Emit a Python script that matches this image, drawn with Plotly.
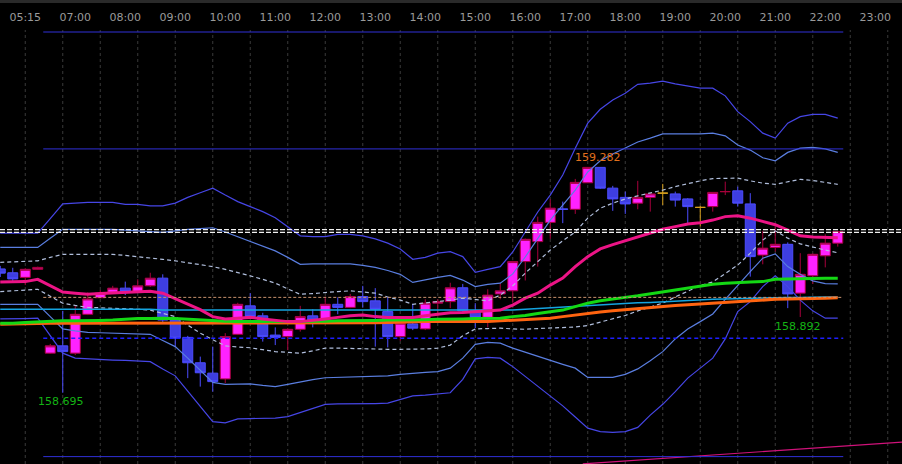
import plotly.graph_objects as go

# %% data: 15-minute bars, index 0..67
bar_index = list(range(68))

opens = [159.017, 159.007, 158.995, 159.016, 158.798, 158.817, 158.798, 158.899, 158.942, 158.956,
         158.967, 158.958, 158.973, 158.993, 158.884, 158.839, 158.773, 158.746, 158.731, 158.847,
         158.921, 158.895, 158.845, 158.841, 158.860, 158.895, 158.886, 158.925, 158.917, 158.945,
         158.934, 158.906, 158.841, 158.874, 158.861, 158.928, 158.932, 158.968, 158.908, 158.891,
         158.952, 158.960, 159.036, 159.088, 159.138, 159.173, 159.172, 159.241, 159.281, 159.227,
         159.203, 159.188, 159.203, 159.214, 159.212, 159.199, 159.177, 159.179, 159.218, 159.220,
         159.186, 159.053, 159.073, 159.081, 158.954, 158.999, 159.051, 159.084]
highs = [159.025, 159.020, 159.019, 159.023, 158.822, 158.908, 158.921, 158.956, 158.962, 158.973,
         158.984, 158.990, 159.007, 159.003, 158.887, 158.843, 158.789, 158.815, 158.850, 158.929,
         158.954, 158.903, 158.865, 158.863, 158.921, 158.912, 158.945, 158.943, 158.952, 158.973,
         158.967, 158.943, 158.879, 158.926, 158.938, 158.938, 158.981, 158.978, 158.928, 158.964,
         158.980, 159.038, 159.096, 159.153, 159.198, 159.192, 159.251, 159.282, 159.282, 159.233,
         159.218, 159.246, 159.215, 159.238, 159.218, 159.201, 159.181, 159.217, 159.244, 159.231,
         159.214, 159.116, 159.129, 159.086, 159.058, 159.057, 159.107, 159.116]
lows = [158.996, 158.984, 158.975, 159.015, 158.796, 158.695, 158.793, 158.897, 158.941, 158.954,
        158.949, 158.957, 158.970, 158.874, 158.815, 158.733, 158.711, 158.698, 158.720, 158.845,
        158.891, 158.828, 158.819, 158.806, 158.854, 158.865, 158.884, 158.899, 158.915, 158.917,
        158.815, 158.813, 158.830, 158.858, 158.858, 158.893, 158.915, 158.905, 158.863, 158.865,
        158.938, 158.929, 158.987, 159.023, 159.095, 159.136, 159.160, 159.240, 159.225, 159.168,
        159.160, 159.172, 159.166, 159.183, 159.179, 159.136, 159.127, 159.166, 159.209, 159.179,
        158.997, 159.029, 159.062, 158.915, 158.892, 158.978, 159.021, 159.075]
closes = [159.006, 158.991, 159.016, 159.021, 158.817, 158.802, 158.899, 158.939, 158.954, 158.967,
          158.958, 158.973, 158.993, 158.884, 158.837, 158.773, 158.747, 158.724, 158.841, 158.925,
          158.893, 158.841, 158.839, 158.860, 158.893, 158.884, 158.925, 158.917, 158.945, 158.932,
          158.912, 158.841, 158.876, 158.863, 158.928, 158.932, 158.968, 158.908, 158.891, 158.949,
          158.960, 159.036, 159.094, 159.138, 159.175, 159.172, 159.242, 159.281, 159.227, 159.199,
          159.186, 159.203, 159.212, 159.214, 159.196, 159.179, 159.177, 159.216, 159.218, 159.188,
          159.049, 159.071, 159.081, 158.952, 159.003, 159.055, 159.084, 159.114]
gold_doji = [53, 56]

# Bollinger-style envelopes
band3_upper = [159.110, 159.110, 159.110, 159.110, 159.148, 159.186, 159.188, 159.190, 159.190, 159.190,
               159.185, 159.185, 159.181, 159.181, 159.188, 159.203, 159.215, 159.227, 159.209, 159.192,
               159.179, 159.166, 159.150, 159.127, 159.103, 159.101, 159.101, 159.107, 159.107, 159.103,
               159.095, 159.084, 159.069, 159.042, 159.047, 159.058, 159.062, 159.049, 159.008, 159.016,
               159.023, 159.061, 159.113, 159.165, 159.209, 159.261, 159.331, 159.396, 159.432, 159.456,
               159.474, 159.497, 159.500, 159.505, 159.498, 159.493, 159.487, 159.487, 159.467, 159.426,
               159.400, 159.370, 159.357, 159.396, 159.413, 159.419, 159.419, 159.409]
band2_upper = [159.073, 159.073, 159.073, 159.073, 159.097, 159.120, 159.120, 159.120, 159.120, 159.120,
               159.118, 159.116, 159.113, 159.112, 159.116, 159.120, 159.122, 159.124, 159.113, 159.101,
               159.089, 159.077, 159.064, 159.047, 159.029, 159.030, 159.030, 159.030, 159.030, 159.026,
               159.021, 159.013, 159.003, 158.982, 158.989, 158.995, 159.000, 158.988, 158.971, 158.977,
               158.980, 159.004, 159.048, 159.097, 159.144, 159.183, 159.222, 159.269, 159.298, 159.316,
               159.331, 159.347, 159.357, 159.368, 159.368, 159.368, 159.368, 159.370, 159.363, 159.339,
               159.326, 159.306, 159.298, 159.320, 159.331, 159.333, 159.329, 159.320]
band1_upper = [159.034, 159.036, 159.037, 159.038, 159.047, 159.055, 159.055, 159.055, 159.055, 159.055,
               159.052, 159.049, 159.046, 159.042, 159.038, 159.033, 159.028, 159.023, 159.016, 159.008,
               158.999, 158.990, 158.980, 158.965, 158.951, 158.953, 158.956, 158.958, 158.960, 158.957,
               158.954, 158.944, 158.936, 158.925, 158.928, 158.932, 158.936, 158.941, 158.938, 158.934,
               158.949, 158.973, 159.006, 159.035, 159.066, 159.090, 159.113, 159.149, 159.175, 159.188,
               159.199, 159.207, 159.214, 159.222, 159.231, 159.239, 159.246, 159.252, 159.253, 159.253,
               159.246, 159.240, 159.237, 159.243, 159.250, 159.247, 159.242, 159.237]
band1_lower = [158.958, 158.960, 158.962, 158.964, 158.946, 158.928, 158.922, 158.917, 158.916, 158.915,
               158.913, 158.912, 158.910, 158.902, 158.893, 158.871, 158.850, 158.833, 158.817, 158.814,
               158.812, 158.807, 158.802, 158.800, 158.798, 158.804, 158.811, 158.811, 158.810, 158.810,
               158.809, 158.808, 158.808, 158.808, 158.809, 158.811, 158.819, 158.843, 158.861, 158.862,
               158.863, 158.861, 158.860, 158.862, 158.863, 158.865, 158.866, 158.870, 158.879, 158.887,
               158.896, 158.908, 158.918, 158.928, 158.944, 158.960, 158.974, 158.983, 159.004, 159.027,
               159.058, 159.092, 159.116, 159.097, 159.082, 159.073, 159.066, 159.059]
band2_lower = [158.925, 158.925, 158.925, 158.925, 158.893, 158.861, 158.856, 158.852, 158.851, 158.850,
               158.849, 158.848, 158.847, 158.831, 158.815, 158.785, 158.754, 158.722, 158.717, 158.717,
               158.718, 158.714, 158.711, 158.717, 158.724, 158.729, 158.734, 158.735, 158.737, 158.738,
               158.739, 158.739, 158.743, 158.746, 158.748, 158.750, 158.759, 158.785, 158.821, 158.826,
               158.824, 158.811, 158.800, 158.789, 158.778, 158.769, 158.759, 158.735, 158.735, 158.735,
               158.743, 158.757, 158.778, 158.802, 158.835, 158.861, 158.880, 158.900, 158.938, 158.975,
               159.010, 159.045, 159.056, 159.023, 159.003, 158.986, 158.979, 158.978]
band3_lower = [158.887, 158.887, 158.888, 158.889, 158.843, 158.798, 158.785, 158.783, 158.781, 158.780,
               158.779, 158.777, 158.776, 158.757, 158.739, 158.699, 158.659, 158.620, 158.617, 158.627,
               158.628, 158.628, 158.629, 158.633, 158.644, 158.654, 158.665, 158.666, 158.666, 158.667,
               158.667, 158.668, 158.677, 158.687, 158.689, 158.692, 158.695, 158.730, 158.783, 158.787,
               158.785, 158.763, 158.737, 158.711, 158.685, 158.661, 158.632, 158.603, 158.594, 158.592,
               158.594, 158.605, 158.637, 158.665, 158.698, 158.733, 158.759, 158.785, 158.835, 158.906,
               158.932, 158.971, 158.999, 158.971, 158.936, 158.908, 158.889, 158.889]

# moving averages
ma_fast = [158.983, 158.984, 158.984, 158.990, 158.973, 158.957, 158.954, 158.951, 158.953, 158.954,
           158.956, 158.957, 158.959, 158.954, 158.940, 158.926, 158.911, 158.893, 158.887, 158.889,
           158.891, 158.887, 158.883, 158.880, 158.880, 158.883, 158.887, 158.891, 158.895, 158.897,
           158.893, 158.891, 158.891, 158.891, 158.895, 158.899, 158.903, 158.904, 158.906, 158.908,
           158.910, 158.923, 158.941, 158.954, 158.975, 158.993, 159.023, 159.049, 159.069, 159.080,
           159.090, 159.099, 159.109, 159.120, 159.127, 159.134, 159.137, 159.144, 159.153, 159.155,
           159.149, 159.140, 159.132, 159.118, 159.103, 159.100, 159.099, 159.098]
ma_mid = [158.876, 158.876, 158.878, 158.880, 158.881, 158.882, 158.882, 158.882, 158.883, 158.884,
          158.886, 158.888, 158.888, 158.889, 158.888, 158.886, 158.884, 158.882, 158.881, 158.880,
          158.880, 158.880, 158.880, 158.880, 158.880, 158.880, 158.881, 158.882, 158.882, 158.883,
          158.883, 158.884, 158.884, 158.884, 158.885, 158.886, 158.886, 158.887, 158.888, 158.888,
          158.889, 158.893, 158.896, 158.901, 158.906, 158.910, 158.919, 158.928, 158.934, 158.939,
          158.943, 158.947, 158.952, 158.956, 158.961, 158.966, 158.971, 158.977, 158.980, 158.982,
          158.983, 158.984, 158.990, 158.991, 158.991, 158.992, 158.993, 158.993]
ma_slow = [158.873, 158.874, 158.875, 158.876, 158.876, 158.876, 158.876, 158.876, 158.876, 158.876,
           158.876, 158.876, 158.877, 158.877, 158.877, 158.877, 158.877, 158.877, 158.877, 158.877,
           158.877, 158.877, 158.877, 158.877, 158.877, 158.876, 158.876, 158.876, 158.876, 158.876,
           158.877, 158.878, 158.879, 158.879, 158.880, 158.880, 158.880, 158.880, 158.880, 158.880,
           158.882, 158.884, 158.886, 158.887, 158.889, 158.893, 158.897, 158.902, 158.905, 158.908,
           158.911, 158.913, 158.916, 158.919, 158.922, 158.924, 158.926, 158.928, 158.930, 158.933,
           158.935, 158.937, 158.938, 158.939, 158.939, 158.940, 158.941, 158.942]
ma_long = [158.912, 158.912, 158.913, 158.913, 158.913, 158.912, 158.912, 158.912, 158.912, 158.912,
           158.912, 158.912, 158.912, 158.910, 158.910, 158.910, 158.910, 158.910, 158.910, 158.910,
           158.910, 158.909, 158.909, 158.909, 158.909, 158.909, 158.909, 158.909, 158.909, 158.909,
           158.909, 158.909, 158.909, 158.909, 158.909, 158.909, 158.909, 158.909, 158.909, 158.909,
           158.909, 158.910, 158.912, 158.914, 158.916, 158.918, 158.920, 158.922, 158.924, 158.926,
           158.928, 158.929, 158.930, 158.932, 158.933, 158.935, 158.936, 158.938, 158.939, 158.940,
           158.941, 158.941, 158.943, 158.943, 158.943, 158.944, 158.944, 158.944]

# horizontal levels
blue_levels = [159.633, 159.329, 158.529]
white_levels = [159.119, 159.112]
tan_level = 158.943
blue_dash_level = 158.837

# trend line anchors (bar index, price)
trend_x = [46.6, 72.2]
trend_y = [158.510, 158.567]

# marked extremes: (bar index, price)
high_mark = (47, 159.282)
low_marks = [(5, 158.695), (64, 158.892)]

tick_pos = [2, 6, 10, 14, 18, 22, 26, 30, 34, 38, 42, 46, 50, 54, 58, 62, 66, 70]
tick_text = ["05:15", "07:00", "08:00", "09:00", "10:00", "11:00", "12:00", "13:00", "14:00",
             "15:00", "16:00", "17:00", "18:00", "19:00", "20:00", "21:00", "22:00", "23:00"]
grid_pos = list(range(2, 72, 3))

# %% figure
fig = go.Figure()

def pick(vals, keep_gold):
    return [v if ((i in gold_doji) == keep_gold) else None for i, v in enumerate(vals)]

fig.add_trace(go.Candlestick(
    x=bar_index, open=pick(opens, False), high=pick(highs, False),
    low=pick(lows, False), close=pick(closes, False),
    increasing=dict(line=dict(color="#a8003c", width=1), fillcolor="#ff22ff"),
    decreasing=dict(line=dict(color="#4c4cff", width=1), fillcolor="#3e3ee0"),
    whiskerwidth=0, hoverinfo="skip", showlegend=False))

fig.add_trace(go.Candlestick(
    x=[bar_index[i] for i in gold_doji], open=[opens[i] for i in gold_doji],
    high=[highs[i] for i in gold_doji], low=[lows[i] for i in gold_doji],
    close=[closes[i] for i in gold_doji],
    increasing=dict(line=dict(color="#d9a01c", width=1), fillcolor="#d9a01c"),
    decreasing=dict(line=dict(color="#d9a01c", width=1), fillcolor="#d9a01c"),
    whiskerwidth=0, hoverinfo="skip", showlegend=False))

lines = [
    (band3_upper, "#4646e6", 1.2, "solid"),
    (band3_lower, "#4646e6", 1.2, "solid"),
    (band2_upper, "#5a7ee0", 1.2, "solid"),
    (band2_lower, "#5a7ee0", 1.2, "solid"),
    (band1_upper, "#b0bedc", 1.2, "4px,3px"),
    (band1_lower, "#b0bedc", 1.2, "4px,3px"),
    (ma_long, "#14a4e0", 1.5, "solid"),
    (ma_slow, "#ff6410", 3, "solid"),
    (ma_mid, "#14d814", 3, "solid"),
    (ma_fast, "#ec1486", 3, "solid"),
]
for vals, col, w, dash in lines:
    fig.add_trace(go.Scatter(x=bar_index, y=vals, mode="lines",
                             line=dict(color=col, width=w, dash=dash),
                             hoverinfo="skip", showlegend=False))

fig.add_trace(go.Scatter(x=trend_x, y=trend_y, mode="lines",
                         line=dict(color="#d0127a", width=1.2),
                         hoverinfo="skip", showlegend=False))

# vertical dashed grid
for g in grid_pos:
    fig.add_shape(type="line", xref="x", yref="paper", x0=g, x1=g, y0=0, y1=1,
                  line=dict(color="#3a3a3a", width=1, dash="3px,3px"), layer="below")

lev_x0, lev_x1 = 3.44, 67.44
for p in blue_levels:
    fig.add_shape(type="line", xref="x", yref="y", x0=lev_x0, x1=lev_x1, y0=p, y1=p,
                  line=dict(color="#3030d8", width=1), layer="above")
fig.add_shape(type="line", xref="x", yref="y", x0=lev_x0, x1=lev_x1,
              y0=blue_dash_level, y1=blue_dash_level,
              line=dict(color="#1e1eff", width=1.5, dash="4px,3px"), layer="above")
fig.add_shape(type="line", xref="x", yref="y", x0=lev_x0, x1=lev_x1,
              y0=tan_level, y1=tan_level,
              line=dict(color="#c8926e", width=1, dash="3px,2px"), layer="above")
for p in white_levels:
    fig.add_shape(type="line", xref="paper", yref="y", x0=0, x1=1, y0=p, y1=p,
                  line=dict(color="#f0f0f0", width=1.3, dash="5px,2px"), layer="above")

# thin grey strip at the very top
fig.add_shape(type="rect", xref="paper", yref="paper", x0=0, x1=1,
              y0=1 + 27 / 434, y1=1 + 30 / 434, fillcolor="#2a2a2a", line=dict(width=0))

lbl_font = dict(family="DejaVu Sans", size=11)
fig.add_annotation(x=high_mark[0], y=high_mark[1], text=f"{high_mark[1]:.3f}",
                   showarrow=False, xshift=10, yshift=10,
                   font=dict(color="#e2701c", **lbl_font))
for bx, bp in low_marks:
    fig.add_annotation(x=bx, y=bp, text=f"{bp:.3f}", showarrow=False,
                       xshift=-2, yshift=-9, font=dict(color="#14b414", **lbl_font))

fig.update_layout(
    width=902, height=464, margin=dict(l=0, r=0, t=30, b=0),
    paper_bgcolor="#000000", plot_bgcolor="#000000",
    boxgap=0.2, boxgroupgap=0, showlegend=False,
    xaxis=dict(range=[-0.02, 72.14], side="top", tickmode="array",
               tickvals=tick_pos, ticktext=tick_text, showgrid=False,
               zeroline=False, showline=False, ticks="", ticklabelstandoff=6,
               tickfont=dict(family="DejaVu Sans", size=11, color="#9a9a9a"),
               rangeslider=dict(visible=False)),
    yaxis=dict(range=[158.5098, 159.6382], showgrid=False, zeroline=False,
               showticklabels=False, showline=False),
)

fig.write_html("out.html", config={"displayModeBar": False},
               post_script="document.body.style.margin='0';"
                           "document.body.style.overflow='hidden';")
